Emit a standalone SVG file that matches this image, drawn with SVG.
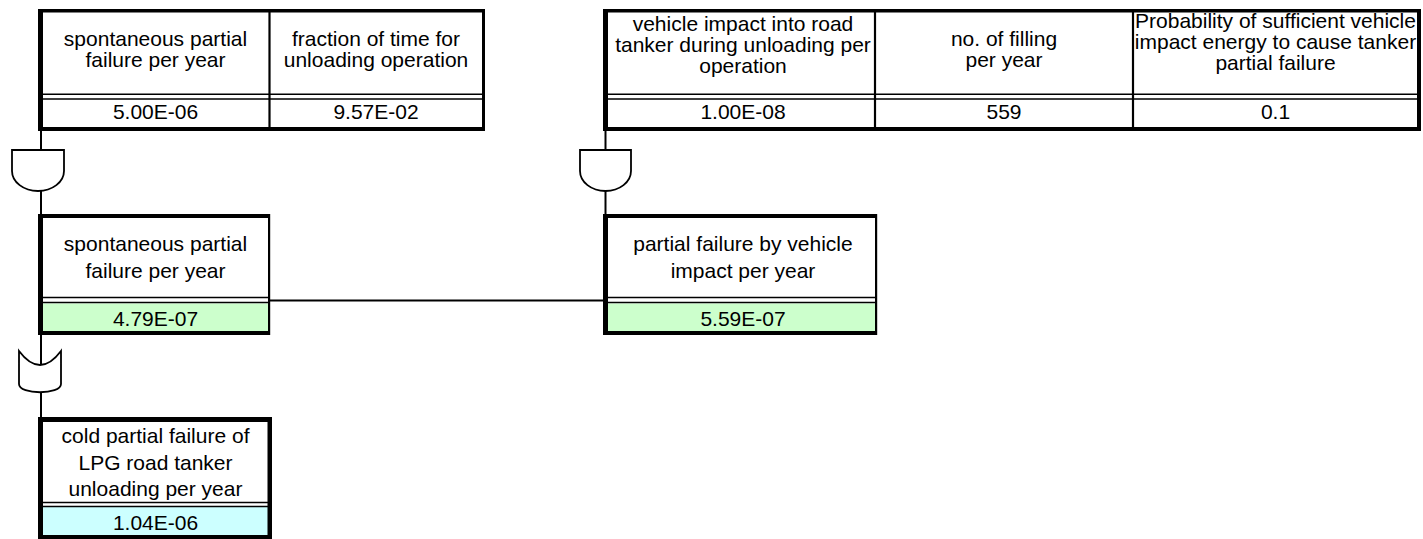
<svg xmlns="http://www.w3.org/2000/svg" width="1423" height="539" viewBox="0 0 1423 539">
  <style>
    text { font-family: "Liberation Sans", Arial, sans-serif; font-size: 21px; fill: #000; text-anchor: middle; }
    .cell { fill: #fff; }
    .frame { fill: #000; }
    .rule { stroke: #000; stroke-width: 1.6; }
    .div { stroke: #000; stroke-width: 2.2; }
    .wire { stroke: #000; stroke-width: 2; fill: none; }
    .gate { fill: #fff; stroke: #000; stroke-width: 1.8; }
    .green { fill: #ccffcc; }
    .cyan { fill: #ccffff; }
  </style>

  <!-- connectors -->
  <g id="connectors">
    <line class="wire" x1="41" y1="131" x2="41" y2="150"/>
    <line class="wire" x1="41" y1="190" x2="41" y2="214"/>
    <line class="wire" x1="605.5" y1="131" x2="605.5" y2="150"/>
    <line class="wire" x1="605.5" y1="190" x2="605.5" y2="214"/>
    <line class="wire" x1="270" y1="300.5" x2="603" y2="300.5"/>
    <line class="wire" x1="41" y1="335" x2="41" y2="365"/>
    <line class="wire" x1="41" y1="391" x2="41" y2="417"/>
  </g>

  <!-- AND gate under the spontaneous-failure inputs -->
  <g id="gate-and-spontaneous">
    <path class="gate" d="M12,150 H64 V171 A26,20 0 0 1 12,171 Z"/>
  </g>

  <!-- AND gate under the vehicle-impact inputs -->
  <g id="gate-and-impact">
    <path class="gate" d="M580,150 H631 V171 A25.5,20 0 0 1 580,171 Z"/>
  </g>

  <!-- OR gate combining both causes -->
  <g id="gate-or-total">
    <path class="gate" d="M19,351 Q40,379 61,351 V384 C61,395 19,395 19,384 Z"/>
  </g>

  <!-- input table: spontaneous failure -->
  <g id="input-spontaneous">
    <rect class="cell" x="38" y="9" width="447" height="122"/>
    <line class="rule" x1="43" y1="94.3" x2="482" y2="94.3"/>
    <line class="rule" x1="43" y1="99" x2="482" y2="99"/>
    <line class="div" x1="269.5" y1="12" x2="269.5" y2="127"/>
    <rect class="frame" x="38" y="9" width="447" height="3.5"/>
    <rect class="frame" x="38" y="9" width="5" height="122"/>
    <rect class="frame" x="38" y="127" width="447" height="4"/>
    <rect class="frame" x="482" y="9" width="3" height="122"/>
    <text x="155.5" y="46">spontaneous partial</text>
    <text x="155.5" y="67">failure per year</text>
    <text x="376" y="46">fraction of time for</text>
    <text x="376" y="67">unloading operation</text>
    <text x="155.5" y="118.5">5.00E-06</text>
    <text x="376" y="118.5">9.57E-02</text>
  </g>

  <!-- input table: vehicle impact -->
  <g id="input-impact">
    <rect class="cell" x="603" y="9" width="818" height="122"/>
    <line class="rule" x1="608" y1="94.3" x2="1417" y2="94.3"/>
    <line class="rule" x1="608" y1="99" x2="1417" y2="99"/>
    <line class="div" x1="875" y1="12" x2="875" y2="127"/>
    <line class="div" x1="1133" y1="12" x2="1133" y2="127"/>
    <rect class="frame" x="603" y="9" width="818" height="3.5"/>
    <rect class="frame" x="603" y="9" width="5" height="122"/>
    <rect class="frame" x="603" y="127" width="818" height="4"/>
    <rect class="frame" x="1417" y="9" width="4" height="122"/>
    <text x="743" y="31">vehicle impact into road</text>
    <text x="743" y="52">tanker during unloading per</text>
    <text x="743" y="73">operation</text>
    <text x="1004" y="46">no. of filling</text>
    <text x="1004" y="67">per year</text>
    <text x="1275.5" y="28">Probability of sufficient vehicle</text>
    <text x="1275.5" y="49">impact energy to cause tanker</text>
    <text x="1275.5" y="70">partial failure</text>
    <text x="743" y="118.5">1.00E-08</text>
    <text x="1004" y="118.5">559</text>
    <text x="1275.5" y="118.5">0.1</text>
  </g>

  <!-- intermediate event: spontaneous -->
  <g id="event-spontaneous">
    <rect class="cell" x="38" y="214" width="232" height="121"/>
    <rect class="green" x="43" y="303.5" width="225" height="27.5"/>
    <line class="rule" x1="43" y1="297.5" x2="268" y2="297.5"/>
    <line class="rule" x1="43" y1="302.5" x2="268" y2="302.5"/>
    <rect class="frame" x="38" y="214" width="232" height="4"/>
    <rect class="frame" x="38" y="214" width="5" height="121"/>
    <rect class="frame" x="38" y="331" width="232" height="4"/>
    <rect class="frame" x="268" y="214" width="2.2" height="121"/>
    <text x="155.5" y="251">spontaneous partial</text>
    <text x="155.5" y="278">failure per year</text>
    <text x="155.5" y="325.5">4.79E-07</text>
  </g>

  <!-- intermediate event: vehicle impact -->
  <g id="event-impact">
    <rect class="cell" x="603" y="214" width="274" height="121"/>
    <rect class="green" x="608" y="303.5" width="267" height="27.5"/>
    <line class="rule" x1="608" y1="297.5" x2="875" y2="297.5"/>
    <line class="rule" x1="608" y1="302.5" x2="875" y2="302.5"/>
    <rect class="frame" x="603" y="214" width="274" height="4"/>
    <rect class="frame" x="603" y="214" width="5" height="121"/>
    <rect class="frame" x="603" y="331" width="274" height="4"/>
    <rect class="frame" x="875" y="214" width="2.2" height="121"/>
    <text x="743" y="251">partial failure by vehicle</text>
    <text x="743" y="278">impact per year</text>
    <text x="743" y="325.5">5.59E-07</text>
  </g>

  <!-- top event -->
  <g id="event-top">
    <rect class="cell" x="38" y="417" width="234" height="126"/>
    <rect class="cyan" x="43" y="507" width="225" height="28"/>
    <line class="rule" x1="43" y1="502.5" x2="268" y2="502.5"/>
    <line class="rule" x1="43" y1="506.5" x2="268" y2="506.5"/>
    <rect class="frame" x="38" y="417" width="234" height="5"/>
    <rect class="frame" x="38" y="417" width="5" height="126"/>
    <rect class="frame" x="38" y="535" width="234" height="6"/>
    <rect class="frame" x="267.5" y="417" width="4.5" height="126"/>
    <text x="155.5" y="443">cold partial failure of</text>
    <text x="155.5" y="469.5">LPG road tanker</text>
    <text x="155.5" y="496">unloading per year</text>
    <text x="155.5" y="530">1.04E-06</text>
  </g>
</svg>
